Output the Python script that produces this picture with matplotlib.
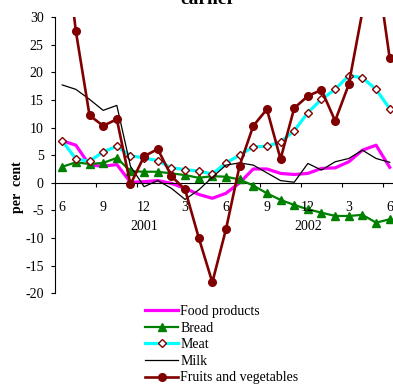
import numpy as np
import matplotlib
matplotlib.use("Agg")
import matplotlib.pyplot as plt

plt.rcParams['font.family'] = ['Liberation Serif', 'DejaVu Serif']
plt.rcParams['font.size'] = 10
plt.rcParams['axes.unicode_minus'] = False

# months June 2000 .. June 2002, year-on-year change in per cent
month_labels = ['6', '9', '12', '3', '6', '9', '12', '3', '6']
year_labels = ['2001', '2002']
year_pos = [6, 18]

food = [7.6, 6.8, 3.2, 3.0, 3.3, 0.1, 0.2, 0.4, -0.1, -1.0, -2.1, -2.8, -1.9, 0.0,
        2.5, 2.5, 1.7, 1.5, 1.7, 2.6, 2.7, 3.8, 5.9, 6.8, 2.8]
bread = [2.9, 3.7, 3.4, 3.6, 4.5, 2.1, 2.0, 2.0, 1.7, 1.4, 0.9, 1.2, 1.1, 0.6,
         -0.5, -1.9, -3.1, -4.0, -4.8, -5.4, -6.0, -6.0, -5.8, -7.2, -6.6]
meat = [7.6, 4.3, 3.9, 5.6, 6.6, 4.9, 4.5, 4.0, 2.7, 2.4, 2.1, 1.6, 3.6, 5.0,
        6.5, 6.6, 7.4, 9.4, 12.7, 15.1, 16.9, 19.4, 19.0, 16.9, 13.4]
milk = [17.7, 16.9, 15.1, 13.1, 14.0, 3.0, -0.7, 0.4, -1.0, -3.0, -1.3, 1.0, 3.2, 3.6,
        3.2, 1.8, 0.4, 0.1, 3.5, 2.3, 3.8, 4.4, 5.9, 4.4, 3.7]
fruits = [48.0, 27.4, 12.2, 10.3, 11.5, -0.3, 4.8, 6.1, 1.2, -1.2, -9.9, -18.0, -8.4, 3.1,
          10.3, 13.3, 4.3, 13.5, 15.7, 16.8, 11.2, 17.8, 31.0, 40.0, 22.5]

x = np.arange(len(food))

fig = plt.figure(figsize=(3.93, 3.85), dpi=100)
ax = fig.add_axes([0.141, 0.238, 0.868, 0.718])

dark_red = '#800000'
ax.plot(x, food, color='#ff00ff', lw=2.3, label='Food products', zorder=2)
ax.plot(x, bread, color='#008000', lw=1.6, marker='^', ms=6, label='Bread', zorder=3)
ax.plot(x, meat, color='#00ffff', lw=2.3, marker='D', ms=4.5, mfc='white',
        mec=dark_red, mew=1.0, label='Meat', zorder=4)
ax.plot(x, milk, color='black', lw=0.9, label='Milk', zorder=5)
ax.plot(x, fruits, color=dark_red, lw=1.9, marker='o', ms=5.5,
        label='Fruits and vegetables', zorder=6)

ax.set_xlim(-0.5, 24.5)
ax.set_ylim(-20, 30)
ax.set_yticks(np.arange(-20, 31, 5))
ax.tick_params(axis='y', direction='out', length=3, width=0.8, pad=5.5)

ax.spines['top'].set_visible(False)
ax.spines['right'].set_visible(False)
ax.spines['bottom'].set_position(('data', 0))
ax.set_xticks(np.arange(2.5, 24.5, 3))
ax.set_xticklabels([])
ax.tick_params(axis='x', direction='out', length=3, width=0.8)

for i, lab in enumerate(month_labels):
    ax.text(i * 3, -4.4, lab, ha='center', va='center')
for pos, lab in zip(year_pos, year_labels):
    ax.text(pos, -7.9, lab, ha='center', va='center')

fig.text(18 / 393, 1 - 187 / 385, 'per  cent', rotation=90, ha='center', va='center',
         fontweight='bold')
fig.text(208 / 393, 0.99, 'earlier', ha='center', va='baseline',
         fontweight='bold', fontsize=14)

fig.legend(loc='upper left', bbox_to_anchor=(145 / 393, 1 - 305 / 385), frameon=False,
           handlelength=2.4, handletextpad=0.15, labelspacing=0.26, borderpad=0,
           borderaxespad=0)

fig.savefig('out.png', dpi=100)
